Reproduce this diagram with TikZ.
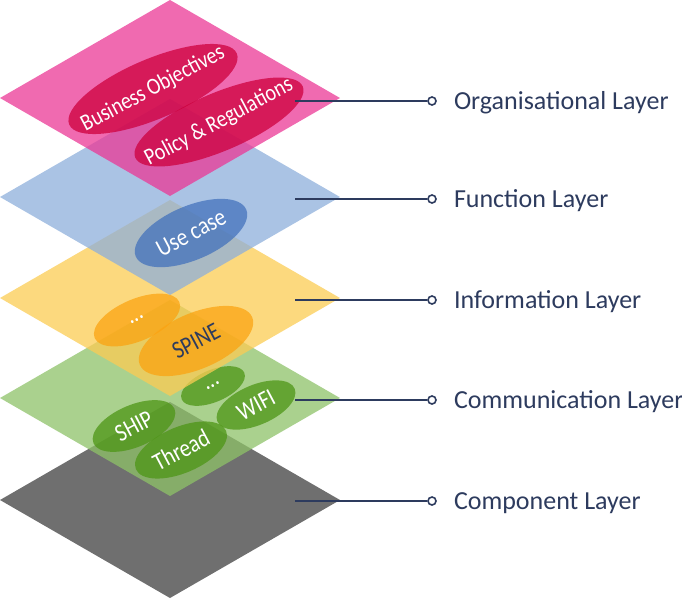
\documentclass[tikz,border=0pt]{standalone}
\usepackage{fontspec}
\setmainfont{Carlito}
\newfontfamily\blobfont[FakeStretch=0.85]{Carlito}
\usetikzlibrary{shapes.geometric,positioning}
\definecolor{navy}{HTML}{2D3B5E}
\definecolor{orgpink}{HTML}{EB3896}
\definecolor{orgdark}{HTML}{CD003D}
\definecolor{funblue}{HTML}{8EAFDB}
\definecolor{fundark}{HTML}{4372BC}
\definecolor{infoyellow}{HTML}{FBCC53}
\definecolor{infodark}{HTML}{FBA412}
\definecolor{comgreen}{HTML}{8EC268}
\definecolor{comdark}{HTML}{4D9515}
\definecolor{compgray}{HTML}{6F6F6F}
\tikzset{
  layer/.style={fill=#1, fill opacity=0.75},
  blob/.style={ellipse, fill=#1, fill opacity=0.75, inner sep=0pt, rotate=23},
  blobtext/.style={text=white, font=\blobfont\fontsize{25}{28}\selectfont, rotate=28, inner sep=0pt},
  pin/.style={circle, draw=navy, line width=1.6pt, fill=white, minimum size=8pt, inner sep=0pt},
  layerlabel/.style={text=navy, font=\fontsize{26}{30}\selectfont, inner sep=0pt,
    text height=16.7pt, text depth=0pt},
  leader/.style={draw=navy, line width=1.8pt},
}

\begin{document}
\begin{tikzpicture}[x=1pt,y=-1pt]
    \useasboundingbox (0,0) rectangle (682,600);
    % Component layer
    \fill[compgray] (170,402) -- (340,500) -- (170,598) -- (0,500) -- cycle;

    % Communication layer
    \fill[layer=comgreen] (170,300) -- (340,398) -- (170,496) -- (0,398) -- cycle;
    \node[blob=comdark, minimum width=68pt, minimum height=32pt] (comdots) at (213,386) {};
    \node[blob=comdark, minimum width=84pt, minimum height=40pt] (wifi) at (256,405) {};
    \node[blob=comdark, minimum width=88pt, minimum height=42pt] (ship) at (134,426) {};
    \node[blob=comdark, minimum width=98pt, minimum height=46pt] (thread) at (181,450) {};
    \node[blobtext] at (comdots) {...};
    \node[blobtext] at (wifi) {WIFI};
    \node[blobtext] at (ship) {SHIP};
    \node[blobtext] at (thread) {Thread};

    % Information layer
    \fill[layer=infoyellow] (170,200) -- (340,298) -- (170,396) -- (0,298) -- cycle;
    \node[blob=infodark, minimum width=92pt, minimum height=42pt] (infodots) at (137,320) {};
    \node[blob=infodark, minimum width=122pt, minimum height=56pt] (spine) at (196,341) {};
    \node[blobtext] at (infodots) {...};
    \node[blobtext, text=navy] at (spine) {SPINE};

    % Function layer
    \fill[layer=funblue] (170,99) -- (340,197) -- (170,295) -- (0,197) -- cycle;
    \node[blob=fundark, minimum width=120pt, minimum height=54pt] (usecase) at (191,233) {};
    \node[blobtext] at (usecase) {Use case};

    % Organisational layer
    \fill[layer=orgpink] (170,0) -- (340,98) -- (170,196) -- (0,98) -- cycle;
    \node[blob=orgdark, minimum width=182pt, minimum height=60pt] (business) at (153,89) {};
    \node[blob=orgdark, minimum width=182pt, minimum height=58pt] (policy) at (219,122) {};
    \node[blobtext, font=\blobfont\fontsize{23.5}{26}\selectfont] at (business) {Business Objectives};
    \node[blobtext, font=\blobfont\fontsize{23.5}{26}\selectfont] at (policy) {Policy \& Regulations};

    % Labels
    \coordinate (orgstart) at (295,101);
    \coordinate (funstart) at (295,199);
    \coordinate (infostart) at (295,300);
    \coordinate (comstart) at (295,400);
    \coordinate (compstart) at (295,501);
    \node[pin] (orgpin) at (432,101) {};
    \node[pin] (funpin) at (432,199) {};
    \node[pin] (infopin) at (432,300) {};
    \node[pin] (compin) at (432,400) {};
    \node[pin] (comppin) at (432,501) {};
    \draw[leader] (orgstart) -- (orgpin);
    \draw[leader] (funstart) -- (funpin);
    \draw[leader] (infostart) -- (infopin);
    \draw[leader] (comstart) -- (compin);
    \draw[leader] (compstart) -- (comppin);
    \node[layerlabel, right=17pt of orgpin] (orglabel) {Organisational Layer};
    \node[layerlabel, right=17pt of funpin] (funlabel) {Function Layer};
    \node[layerlabel, right=17pt of infopin] (infolabel) {Information Layer};
    \node[layerlabel, right=17pt of compin] (comlabel) {Communication Layer};
    \node[layerlabel, right=17pt of comppin] (complabel) {Component Layer};
\end{tikzpicture}
\end{document}
